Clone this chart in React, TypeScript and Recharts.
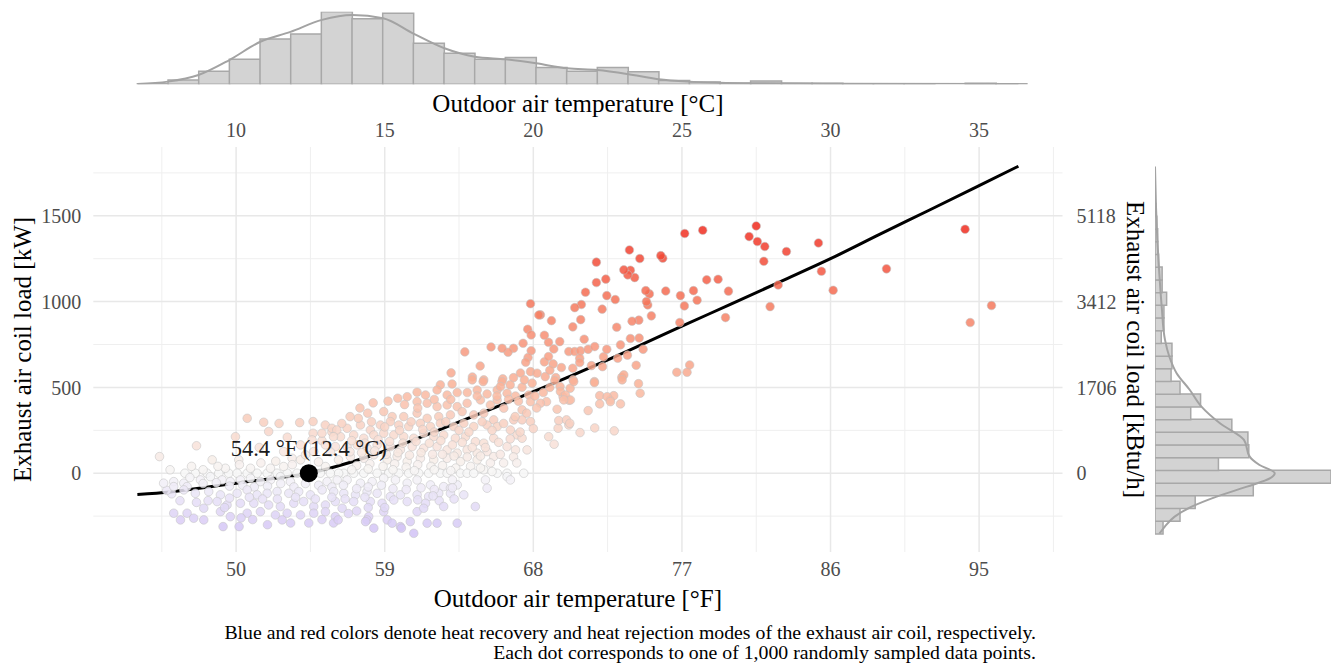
import {
  Bar,
  CartesianGrid,
  ComposedChart,
  Line,
  ReferenceDot,
  Scatter,
  XAxis,
  YAxis,
} from "recharts";

const FONT = "'Liberation Serif', 'Times New Roman', serif";

// sampled points: [outdoor air temp °F, exhaust air coil load kW]
const samples: [number, number][] = [
  // warm / heat rejection
  [77.17, 1397], [78.26, 1416], [81.5, 1441], [81.07, 1379], [81.57, 1350], [82.02, 1321], [81.96, 1235],
  [83.33, 1292], [85.27, 1342], [85.45, 1177], [86.16, 1066], [89.39, 1191], [94.15, 1422], [95.75, 977],
  [94.46, 878], [82.83, 1097], [82.34, 971], [79.64, 907], [79.82, 1061], [79.19, 1130], [78.5, 1127],
  [77.92, 1008], [77.7, 1064], [77.15, 975], [76.91, 1035], [76.87, 878], [77.47, 631], [77.31, 588],
  [76.69, 588], [76.02, 1062], [75.84, 1253], [75.72, 1268], [75.15, 917], [75.03, 1045], [74.93, 981],
  [74.85, 1000], [74.81, 1064], [74.39, 892], [73.98, 886], [74.14, 1140], [74.45, 1251], [73.82, 1301],
  [73.88, 1183], [73.72, 1156], [73.48, 1185], [73.05, 851], [72.96, 1012], [72.45, 1035], [72.39, 1131],
  [72.17, 956], [71.82, 1230], [71.82, 1111], [71.16, 1055], [70.91, 983], [70.51, 965], [70.39, 853],
  [70.87, 895], [69.1, 889], [68.43, 923], [71.08, 781], [74.41, 788], [74.65, 722], [73.88, 785],
  [73.28, 748], [74.23, 629], [74.37, 522], [74.47, 466], [73.28, 404], [72.65, 427], [72.87, 452],
  [72.02, 452], [72.02, 404], [73.36, 559], [73.48, 573], [73.7, 688], [73.11, 670], [72.19, 621],
  [72.25, 678], [72.45, 722], [71.7, 534], [71.32, 365], [71.72, 264], [72.9, 247], [70.83, 237],
  [70.15, 281], [69.5, 262], [68.93, 213], [69.26, 169], [69.44, 373], [70.17, 425], [69.8, 446],
  [70.23, 495], [69.62, 505], [68.8, 417], [68.43, 408], [69.36, 557], [68.72, 563], [70.41, 544],
  [69.7, 616], [69.2, 637], [68.67, 649], [68.92, 680], [69.24, 724], [69.6, 767], [68.92, 763],
  [68.67, 804], [70.15, 709], [70.5, 709], [70.85, 713], [71.32, 722], [71.72, 738], [70.81, 670],
  [70.81, 645], [70.39, 612], [71.52, 627], [69.64, 476], [69.95, 456], [70.25, 427], [69.84, 427],
  [70.45, 534], [71.7, 528], [73.38, 544], [72.47, 446], [72.67, 417], [69.54, 307], [70.01, 311],
  [70.21, 291],
  [67.83, 988], [68.33, 922], [67.66, 839], [67.87, 806], [67.38, 757], [67.87, 714], [67.68, 674],
  [67.54, 647], [66.8, 728], [66.47, 705], [66.11, 728], [65.44, 736], [63.85, 707], [64.78, 625],
  [63.02, 585], [64.31, 561], [65.0, 544], [66.15, 550], [66.8, 557], [67.22, 584], [67.83, 592],
  [68.23, 583],
  // middle band
  [62.37, 515], [63.08, 520], [64.3, 544], [64.96, 534], [66.1, 534], [66.6, 515], [67.32, 501],
  [67.46, 544], [67.93, 525],
  [60.96, 472], [61.47, 456], [62.17, 485], [62.78, 456], [63.39, 470], [64.6, 485], [65.2, 462],
  [65.81, 485], [66.01, 505], [66.41, 466], [66.92, 450], [67.72, 456],
  [59.79, 437], [60.36, 446], [60.96, 417], [61.57, 408], [62.17, 388], [62.78, 398], [63.39, 388],
  [63.99, 408], [64.8, 427], [65.4, 398], [65.81, 427], [66.21, 379], [67.32, 369], [67.83, 417],
  [57.97, 350], [58.94, 359], [59.45, 330], [60.15, 330], [60.96, 350], [61.57, 320], [62.27, 330],
  [62.98, 340], [63.69, 359], [64.39, 340], [65.0, 350], [65.6, 311], [66.81, 311], [67.32, 311],
  [67.83, 301],
  [56.72, 262], [57.53, 281], [58.13, 252], [58.74, 281], [59.34, 301], [59.85, 281], [60.45, 272],
  [61.16, 291], [61.77, 272], [62.37, 291], [63.18, 272], [63.79, 291], [64.39, 272], [65.2, 281],
  [65.81, 272], [66.61, 252], [67.02, 223], [67.32, 204],
  [56.32, 213], [57.12, 223], [57.73, 204], [58.34, 223], [58.94, 233], [59.55, 223], [60.15, 213],
  [60.76, 204], [61.36, 233], [61.97, 213], [62.57, 223], [63.28, 204], [63.89, 213], [64.49, 184],
  [65.0, 175], [65.6, 204], [66.41, 155], [66.92, 136], [67.62, 136],
  [56.72, 155], [57.33, 165], [57.93, 146], [58.54, 165], [59.34, 155], [59.95, 136], [60.66, 155],
  [61.36, 146], [62.17, 155], [62.78, 136], [63.39, 117], [63.99, 136], [64.6, 117], [65.2, 126],
  [65.6, 97],
  [56.92, 97], [57.73, 87], [58.34, 107], [59.15, 78], [59.75, 97], [60.36, 68], [61.16, 87],
  [61.97, 78], [62.78, 87], [63.59, 68], [64.6, 78],
  [57.4, 320], [58.2, 300], [59.0, 270], [59.9, 250], [60.6, 300], [61.3, 255], [62.0, 240],
  [62.7, 300], [63.5, 250], [64.1, 240], [64.9, 300], [65.5, 250], [66.2, 290], [66.9, 330],
  [67.6, 350], [68.2, 380], [57.0, 190], [57.8, 175], [58.6, 195], [59.3, 185], [60.1, 175],
  [60.9, 185], [61.7, 175], [62.4, 190], [63.1, 165], [63.7, 180], [64.3, 150], [65.1, 150],
  [65.9, 180], [66.6, 200], [67.2, 240], [68.0, 260], [56.9, 125], [57.6, 120], [58.4, 130],
  [59.1, 110], [59.8, 120], [60.5, 105], [61.2, 120], [61.9, 110], [62.5, 110], [63.2, 100],
  [64.0, 95], [64.8, 100], [65.4, 60], [66.0, 110], [66.8, 95], [57.3, 45], [58.1, 55], [58.9, 40],
  [59.6, 55], [60.3, 35], [61.0, 50], [61.8, 40], [62.5, 45], [63.3, 30], [64.2, 40], [65.0, 20],
  [66.2, 60], [67.0, 60], [55.2, 190], [55.8, 240], [56.4, 290], [56.9, 330], [57.5, 380],
  [58.3, 410], [59.2, 420], [60.2, 400], [61.0, 380], [62.0, 430], [63.0, 430], [64.0, 470],
  [64.6, 450], [65.8, 450], [66.5, 430], [67.1, 420], [68.1, 450], [68.6, 470], [69.0, 500],
  [69.3, 540], [69.0, 600],
  [56.52, 0], [57.12, 0], [57.73, 0], [58.54, 0], [59.24, 0], [59.85, 0], [60.45, 0], [61.06, 0],
  [61.66, 0], [62.37, 0], [62.78, 0], [63.59, 0], [63.99, 0], [64.39, 0], [65.81, 0], [66.41, 0],
  [67.42, 0],
  [56.72, -39], [57.53, -58], [58.24, -49], [58.94, -29], [59.65, -39], [60.36, -58], [60.96, -39],
  [61.77, -68], [62.57, -78], [62.98, -87], [63.39, -68], [65.1, -39], [65.2, -87], [66.41, -20],
  [66.61, -39],
  [56.52, -117], [57.23, -126], [57.93, -107], [58.54, -117], [59.34, -136], [59.95, -126], [60.96, -126],
  [61.66, -136], [62.27, -117], [62.98, -117], [63.79, -126], [57.12, -165], [58.13, -165], [58.84, -175],
  [59.55, -156], [60.36, -165], [61.47, -175], [64.49, -194],
  [56.42, -204], [58.03, -253], [58.94, -224], [59.15, -272], [59.45, -291], [59.95, -311], [60.55, -282],
  [60.76, -350], [61.57, -291], [62.17, -291], [63.39, -291], [60.96, -224], [61.36, -204],
  // cool end / heat recovery
  [45.36, 97], [50.67, 320], [51.67, 297], [51.97, 243], [49.96, 213], [48.55, 78], [50.16, 78],
  [53.85, 295], [54.66, 301], [55.4, 281], [55.8, 262], [56.1, 252], [54.66, 233], [55.2, 233],
  [55.9, 213], [55.41, 165], [56.01, 155], [54.7, 126], [52.88, 126], [53.39, 87], [53.9, 78],
  [54.2, 107], [54.99, 66], [55.71, 124], [56.2, 78], [53.9, 165], [54.6, 194],
  [47.6, 160], [51.4, 150], [53.1, 210], [52.6, 290],
  [47.53, 0], [48.24, 0], [48.95, 0], [49.55, 0], [50.06, 0], [50.67, 0], [51.27, 0], [51.88, 0],
  [52.48, 0], [53.09, 0], [53.69, 0], [55.1, 0], [55.71, 0], [56.21, 0], [46.9, 0],
  [46.22, -49], [46.83, -58], [47.03, -78], [47.84, -39], [48.44, -20], [49.15, -39], [49.65, -49],
  [50.26, -39], [50.87, -29], [51.47, -49], [52.08, -39], [52.68, -20], [53.29, -49], [55.51, -49],
  [56.12, -39], [55.41, 39], [52.88, 39], [52.08, 29], [50.87, 29], [49.35, 29],
  [48.9, 40], [50.2, 50], [51.5, 60], [52.4, 70], [53.4, 50], [47.3, 40], [48.0, 20], [46.0, 20],
  [57.0, 20], [58.0, 25], [59.5, 20], [60.8, 15], [62.0, 20], [63.0, 15], [64.8, 30], [65.5, 10],
  [47.2, -25], [48.0, -60], [48.8, -55], [49.6, -75], [50.4, -70], [51.1, -80], [51.9, -75],
  [52.7, -60], [53.5, -80], [54.2, -60], [55.0, -70], [55.8, -80], [56.5, -70], [57.3, -90],
  [58.0, -80], [58.8, -70], [59.5, -90], [60.3, -95], [61.2, -85], [62.0, -95],
  [46.83, -97], [47.53, -117], [48.34, -107], [49.05, -126], [50.06, -117], [50.67, -97], [51.27, -126],
  [51.88, -117], [52.48, -107], [53.19, -117], [53.79, -107], [54.5, -126], [55.21, -97], [55.91, -107],
  [48.85, -165], [49.45, -185], [50.26, -175], [51.07, -175], [51.97, -185], [52.68, -194], [53.49, -175],
  [54.09, -165], [54.7, -194], [55.41, -185], [56.01, -165], [47.03, -233], [47.43, -262], [48.04, -204],
  [49.05, -224], [49.65, -253], [50.67, -233], [51.47, -224], [52.38, -243], [53.09, -233], [53.9, -243],
  [54.7, -233], [55.41, -224], [56.01, -253], [50.18, -311],
  [63.2, -150], [62.3, -160], [61.0, -155], [59.0, -200], [58.0, -200], [57.3, -220], [56.8, -235],
  [55.9, -290], [55.2, -270], [54.4, -290], [53.3, -290], [51.9, -300], [51.0, -270], [50.3, -260],
  [49.3, -200], [48.3, -160], [47.6, -170], [46.6, -160], [46.1, -120], [45.8, -100], [52.5, -150],
  [53.6, -140], [54.8, -150], [55.8, -140], [56.6, -150], [57.8, -140], [49.6, -145], [50.8, -140],
  [51.6, -150],
  [60.01, -320], [56.18, -272], [57.93, -272], [52.79, -272], [48.04, -272], [46.63, -272], [46.22, -233],
  [49.21, -311], [58.34, -320], [57.84, -282], [61.93, -132], [62.57, -194], [63.1, -39], [63.1, -85],
  [45.61, -58], [46.22, -78],
];

// fitted curve [°F, kW]
const fitTempF = [44.02, 46, 48, 50, 52, 54.4, 56, 58, 60, 62, 64, 66, 68, 70, 72, 74, 77, 80, 83, 86, 89, 92, 95, 97.38];
const fitLoadKW = [-124, -109, -84, -58, -33, 0, 38, 96, 166, 241, 318, 396, 475, 555, 639, 725, 857, 987, 1118, 1250, 1393, 1534, 1676, 1789];

const crossing = { tempF: 54.4, tempC: 12.4 };

const tempTicksF = [50, 59, 68, 77, 86, 95];
const tempMinorF = [45.5, 54.5, 63.5, 72.5, 81.5, 90.5, 99.5];
const loadTicksKW = [0, 500, 1000, 1500];
const loadMinorKW = [-250, 250, 750, 1250, 1750];

// top marginal: temperature histogram (°F bins) + density
const tempBinStart = 44.02;
const tempBinWidth = 1.857;
const tempCounts = [1, 8, 24, 46, 83, 92, 133, 120, 130, 75, 57, 46, 49, 31, 24, 31, 23, 7, 4, 2, 6, 2, 2, 1, 1, 1, 0, 2, 1];
const tempDensF = [44.02, 45.87, 47.72, 49.59, 51.47, 53.29, 55.2, 57.04, 58.9, 60.74, 62.62, 64.46, 66.31, 68.16, 70.05, 71.88, 73.7, 75.58, 77.43, 79.25, 82.05, 85.54, 97.38];
const tempDensV = [0.6, 4.9, 17, 44.5, 78, 96, 118, 127, 121, 93, 66, 50.6, 45.8, 38.4, 29.3, 26.2, 18.9, 9.2, 4.9, 3, 1.8, 1.2, 0.6];

// right marginal: load histogram (kW bins, bottom to top) + density
const loadBinStart = -352;
const loadBinWidth = 74;
const loadCounts = [9, 28, 45, 110, 197, 71, 105, 104, 86, 40, 51, 28, 18, 19, 19, 7, 10, 10, 13, 8, 8, 4, 3, 3, 2, 1, 0, 0, 0];
const loadDensKW = [-352, -311, -253, -195, -136, -78, -29, 0, 48, 97, 194, 291, 388, 485, 583, 680, 777, 971, 1165, 1360, 1554, 1787];
const loadDensV = [5, 11, 22, 41, 69, 103, 129, 134, 117, 106, 99.6, 72.7, 52, 39, 24.2, 16, 11.2, 7.5, 4.8, 2.6, 1.1, 0];

// layout of the main panel
const W = 1337;
const H = 667;
const PX = { left: 93.3, right: 1062.5, top: 147, bottom: 552 };
const xDomain: [number, number] = [41.35, 100.05];
const yDomain: [number, number] = [-459, 1901];

const fx = (f: number) =>
  PX.left + ((f - xDomain[0]) / (xDomain[1] - xDomain[0])) * (PX.right - PX.left);
const py = (kw: number) =>
  PX.top + ((yDomain[1] - kw) / (yDomain[1] - yDomain[0])) * (PX.bottom - PX.top);

const mix = (a: number[], b: number[], t: number) =>
  `rgb(${a.map((v, i) => Math.round(v + (b[i] - v) * t)).join(",")})`;

const warmStops: [number, number[]][] = [
  [0, [247, 247, 247]],
  [500, [249, 180, 154]],
  [1000, [245, 118, 90]],
  [1450, [240, 40, 28]],
];
const coolStops: [number, number[]][] = [
  [0, [247, 247, 247]],
  [-360, [208, 192, 246]],
];

const loadColor = (kw: number) => {
  const stops = kw >= 0 ? warmStops : coolStops;
  const v = Math.abs(kw);
  for (let i = 1; i < stops.length; i++) {
    const lo = Math.abs(stops[i - 1][0]);
    const hi = Math.abs(stops[i][0]);
    if (v <= hi || i === stops.length - 1) {
      const t = Math.min(1, (v - lo) / (hi - lo));
      return mix(stops[i - 1][1], stops[i][1], t);
    }
  }
  return "#f7f7f7";
};

const scatterData = samples.map(([x, y]) => ({ x, y }));
const curveData = fitTempF.map((x, i) => ({ x, y: fitLoadKW[i] }));

const tempBinEnd = tempBinStart + tempCounts.length * tempBinWidth;
const tempHist = tempCounts.map((n, i) => ({ bin: i, n }));
const tempDensity = tempDensF.map((x, i) => ({ x, d: tempDensV[i] }));

const loadBinEnd = loadBinStart + loadCounts.length * loadBinWidth;
const loadHist = loadCounts.map((n, i) => ({ bin: i, n }));
const loadDensity = loadDensKW.map((kw, i) => ({ kw, d: loadDensV[i] }));

const tickStyle = { fill: "#4d4d4d", fontSize: 20, fontFamily: FONT };
const titleStyle = { fill: "#000", fontSize: 25, fontFamily: FONT };

const Dot = (props: any) => {
  const { cx, cy, payload } = props;
  if (cx == null || cy == null) return null;
  return (
    <circle
      cx={cx}
      cy={cy}
      r={4.3}
      fill={loadColor(payload.y)}
      fillOpacity={0.85}
      stroke="#c4c4c4"
      strokeOpacity={0.7}
      strokeWidth={0.8}
    />
  );
};

const layer = { position: "absolute" as const, left: 0, top: 0 };

const App = () => {
  const rightAxisW = 60;
  return (
    <div style={{ position: "absolute", left: 0, top: 0, width: W, height: H, background: "#fff" }}>
      {/* top marginal histogram */}
      <div style={layer}>
        <ComposedChart
          width={W}
          height={100}
          data={tempHist}
          barCategoryGap={0}
          barGap={0}
          margin={{
            top: 11.7,
            bottom: 100 - 84.3,
            left: fx(tempBinStart),
            right: W - fx(tempBinEnd),
          }}
        >
          <XAxis xAxisId="bins" dataKey="bin" type="category" hide />
          <XAxis
            xAxisId="num"
            dataKey="x"
            type="number"
            domain={[tempBinStart, tempBinEnd]}
            allowDataOverflow
            hide
          />
          <YAxis yAxisId="n" type="number" domain={[0, Math.max(...tempCounts)]} allowDataOverflow hide />
          <Bar
            xAxisId="bins"
            yAxisId="n"
            dataKey="n"
            fill="#d3d3d3"
            stroke="#a8a8a8"
            strokeWidth={1.5}
            isAnimationActive={false}
          />
          <Line
            xAxisId="num"
            yAxisId="n"
            data={tempDensity}
            dataKey="d"
            type="monotone"
            stroke="#a3a3a3"
            strokeWidth={2}
            dot={false}
            isAnimationActive={false}
          />
        </ComposedChart>
      </div>

      {/* right marginal histogram */}
      <div style={layer}>
        <ComposedChart
          layout="vertical"
          width={W}
          height={H}
          data={loadHist}
          barCategoryGap={0}
          barGap={0}
          margin={{
            top: py(loadBinEnd),
            bottom: H - py(loadBinStart),
            left: 1155,
            right: 6,
          }}
        >
          <XAxis xAxisId="n" type="number" domain={[0, Math.max(...loadCounts)]} allowDataOverflow hide />
          <YAxis yAxisId="bins" type="category" dataKey="bin" reversed hide />
          <YAxis
            yAxisId="num"
            type="number"
            dataKey="kw"
            domain={[loadBinStart, loadBinEnd]}
            reversed
            allowDataOverflow
            hide
          />
          <Bar
            xAxisId="n"
            yAxisId="bins"
            dataKey="n"
            fill="#d3d3d3"
            stroke="#a8a8a8"
            strokeWidth={1.5}
            isAnimationActive={false}
          />
          <Line
            xAxisId="n"
            yAxisId="num"
            data={loadDensity}
            dataKey="d"
            type="monotone"
            stroke="#a3a3a3"
            strokeWidth={2}
            dot={false}
            isAnimationActive={false}
          />
        </ComposedChart>
      </div>

      {/* main scatter panel */}
      <div style={layer}>
        <ComposedChart
          width={W}
          height={H}
          margin={{ top: 0, left: 0, bottom: 0, right: W - PX.right - rightAxisW }}
        >
          <CartesianGrid
            xAxisId="f"
            yAxisId="kw"
            stroke="#efefef"
            strokeWidth={1}
            verticalValues={tempMinorF}
            horizontalValues={loadMinorKW}
          />
          <CartesianGrid
            xAxisId="f"
            yAxisId="kw"
            stroke="#e8e8e8"
            strokeWidth={1.5}
            verticalValues={tempTicksF}
            horizontalValues={loadTicksKW}
          />
          <XAxis
            xAxisId="f"
            type="number"
            dataKey="x"
            domain={xDomain}
            allowDataOverflow
            ticks={tempTicksF}
            interval={0}
            height={H - PX.bottom}
            tickSize={0}
            tickMargin={10}
            axisLine={false}
            tickLine={false}
            tick={tickStyle}
          />
          <XAxis
            xAxisId="c"
            orientation="top"
            type="number"
            dataKey="x"
            domain={xDomain}
            allowDataOverflow
            ticks={tempTicksF}
            interval={0}
            height={PX.top}
            tickSize={0}
            tickMargin={10}
            axisLine={false}
            tickLine={false}
            tick={tickStyle}
            tickFormatter={(v: number) => String(Math.round(((v - 32) * 5) / 9))}
          />
          <YAxis
            yAxisId="kw"
            type="number"
            dataKey="y"
            domain={yDomain}
            allowDataOverflow
            ticks={loadTicksKW}
            interval={0}
            width={PX.left}
            tickSize={0}
            tickMargin={12}
            axisLine={false}
            tickLine={false}
            tick={tickStyle}
          />
          <YAxis
            yAxisId="btu"
            orientation="right"
            type="number"
            dataKey="y"
            domain={yDomain}
            allowDataOverflow
            ticks={loadTicksKW}
            interval={0}
            width={rightAxisW}
            tickSize={0}
            tickMargin={14}
            axisLine={false}
            tickLine={false}
            tick={tickStyle}
            tickFormatter={(v: number) => String(Math.round(v * 3.412))}
          />
          <Scatter
            xAxisId="f"
            yAxisId="kw"
            data={scatterData}
            shape={Dot}
            isAnimationActive={false}
          />
          <Line
            xAxisId="c"
            yAxisId="btu"
            data={curveData}
            dataKey="y"
            stroke="none"
            dot={false}
            isAnimationActive={false}
          />
          <Line
            xAxisId="f"
            yAxisId="kw"
            data={curveData}
            dataKey="y"
            type="monotone"
            stroke="#000"
            strokeWidth={3}
            dot={false}
            isAnimationActive={false}
          />
          <ReferenceDot
            xAxisId="f"
            yAxisId="kw"
            x={crossing.tempF}
            y={0}
            r={9}
            fill="#000"
            stroke="none"
            label={{
              value: `${crossing.tempF} °F (${crossing.tempC} °C)`,
              position: "top",
              offset: 8,
              fill: "#1a1a1a",
              fontSize: 22.5,
              fontFamily: FONT,
            }}
          />
        </ComposedChart>
      </div>

      {/* titles and caption */}
      <svg width={W} height={H} style={{ ...layer, pointerEvents: "none" }}>
        <text x={(PX.left + PX.right) / 2} y={112} textAnchor="middle" {...titleStyle}>
          Outdoor air temperature [°C]
        </text>
        <text x={(PX.left + PX.right) / 2} y={607} textAnchor="middle" {...titleStyle}>
          Outdoor air temperature [°F]
        </text>
        <text
          transform={`translate(22, ${(PX.top + PX.bottom) / 2}) rotate(-90)`}
          textAnchor="middle"
          dominantBaseline="central"
          {...titleStyle}
        >
          Exhaust air coil load [kW]
        </text>
        <text
          transform={`translate(1135, ${(PX.top + PX.bottom) / 2}) rotate(90)`}
          textAnchor="middle"
          dominantBaseline="central"
          {...titleStyle}
        >
          Exhaust air coil load [kBtu/h]
        </text>
        <text x={1036} y={639} textAnchor="end" fill="#000" fontSize={19.8} fontFamily={FONT}>
          Blue and red colors denote heat recovery and heat rejection modes of the exhaust air coil, respectively.
        </text>
        <text x={1036} y={659} textAnchor="end" fill="#000" fontSize={19.8} fontFamily={FONT}>
          Each dot corresponds to one of 1,000 randomly sampled data points.
        </text>
      </svg>
    </div>
  );
};

export default App;
